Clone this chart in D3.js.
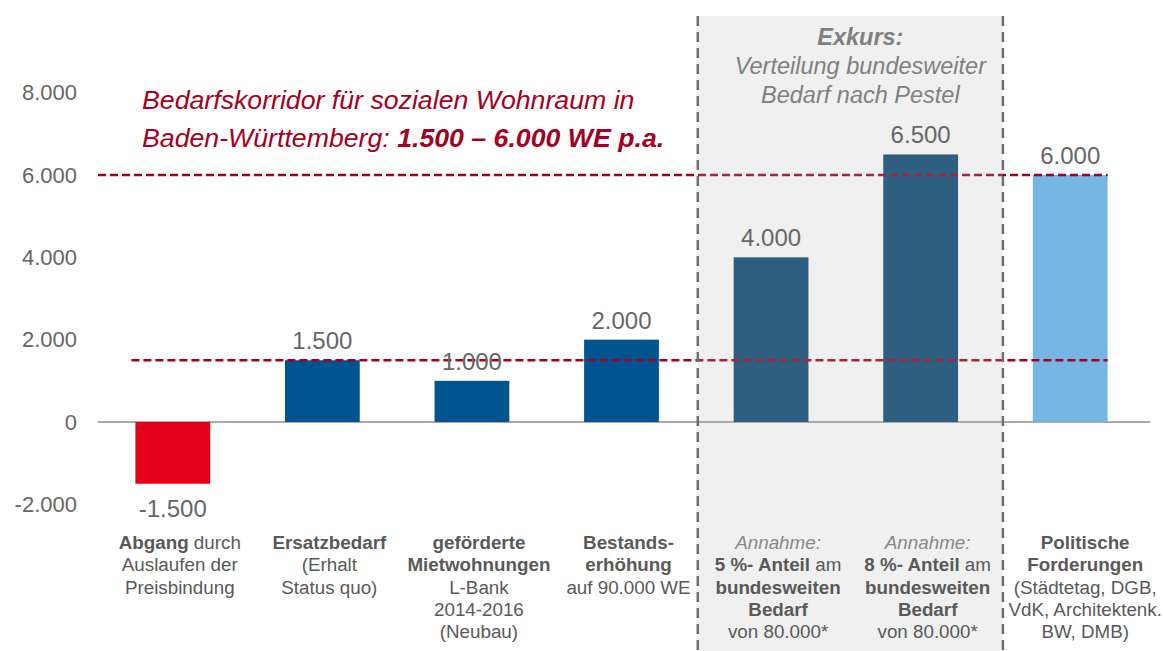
<!DOCTYPE html>
<html>
<head>
<meta charset="utf-8">
<script src="https://cdn.jsdelivr.net/npm/d3@7"></script>
<style>
  body { margin: 0; background: #fff; }
  svg { display: block; font-family: "Liberation Sans", Arial, sans-serif; }
</style>
</head>
<body>
<svg id="chart" width="1163" height="651"></svg>
<script>
// Daten
const categories = ["abgang", "ersatz", "gefoerdert", "bestand", "anteil5", "anteil8", "politik"];
const values = [-1500, 1500, 1000, 2000, 4000, 6500, 6000];
const barColors = ["#e2001a", "#005590", "#005590", "#005590", "#0d4a73", "#0d4a73", "#75b6e3"];
const yTicks = [-2000, 0, 2000, 4000, 6000, 8000];
const corridor = [1500, 6000];
const exkursCats = ["anteil5", "anteil8"];

// Beschriftungen: Zeilen aus Segmenten [Text, Stil]
const catLabels = [
  [[["Abgang", "b"], [" durch", ""]], [["Auslaufen der", ""]], [["Preisbindung", ""]]],
  [[["Ersatzbedarf", "b"]], [["(Erhalt", ""]], [["Status quo)", ""]]],
  [[["geförderte", "b"]], [["Mietwohnungen", "b"]], [["L-Bank", ""]], [["2014-2016", ""]], [["(Neubau)", ""]]],
  [[["Bestands-", "b"]], [["erhöhung", "b"]], [["auf 90.000 WE", ""]]],
  [[["Annahme:", "i"]], [["5 %- Anteil", "b"], [" am", ""]], [["bundesweiten", "b"]], [["Bedarf", "b"]], [["von 80.000*", ""]]],
  [[["Annahme:", "i"]], [["8 %- Anteil", "b"], [" am", ""]], [["bundesweiten", "b"]], [["Bedarf", "b"]], [["von 80.000*", ""]]],
  [[["Politische", "b"]], [["Forderungen", "b"]], [["(Städtetag, DGB,", ""]], [["VdK, Architektenk.", ""]], [["BW, DMB)", ""]]]
];
const noteLines = [
  [["Bedarfskorridor für sozialen Wohnraum in", "i"]],
  [["Baden-Württemberg: ", "i"], ["1.500 – 6.000 WE p.a.", "bi"]]
];
const exkursLines = [["Exkurs:", "bi"], ["Verteilung bundesweiter", "i"], ["Bedarf nach Pestel", "i"]];

const svg = d3.select("#chart");
const fmt = v => d3.format(",")(v).replace(/,/g, ".").replace("\u2212", "-");

const x = d3.scaleBand().domain(categories).range([98, 1145]).paddingInner(0.5).paddingOuter(0.25);
const y = d3.scaleLinear().domain([-2000, 8000]).range([504.3, 92.7]);
const step = x.step();

const boxL = x(exkursCats[0]) - step * 0.24;
const boxR = x(exkursCats[1]) + x.bandwidth() + step * 0.3;

// Achsenlinie
svg.append("line")
  .attr("x1", 98).attr("x2", 1150).attr("y1", y(0)).attr("y2", y(0))
  .attr("stroke", "#8c8c8c").attr("stroke-width", 1.5);

// Balken
svg.append("g").selectAll("rect")
  .data(categories)
  .join("rect")
  .attr("x", d => x(d))
  .attr("width", x.bandwidth())
  .attr("y", (d, i) => y(Math.max(0, values[i])))
  .attr("height", (d, i) => Math.abs(y(values[i]) - y(0)))
  .attr("fill", (d, i) => barColors[i]);

// Korridor-Linien
const lastEnd = x(categories[categories.length - 1]) + x.bandwidth();
svg.append("g").selectAll("line")
  .data(corridor)
  .join("line")
  .attr("x1", (d, i) => i === 1 ? 98 : x(categories[0]) - 4)
  .attr("x2", lastEnd)
  .attr("y1", d => y(d)).attr("y2", d => y(d))
  .attr("stroke", "#a50021").attr("stroke-width", 2.5)
  .attr("stroke-dasharray", "8,4");

// Halbtransparente Überlagerung für Exkurs-Bereich
svg.append("rect")
  .attr("x", boxL).attr("y", 16).attr("width", boxR - boxL).attr("height", 651 - 16)
  .attr("fill", "#b4b4b4").attr("opacity", 0.2);

// Gestrichelte Rahmen links/rechts
svg.append("g").selectAll("line")
  .data([boxL, boxR])
  .join("line")
  .attr("x1", d => d).attr("x2", d => d).attr("y1", 16).attr("y2", 651)
  .attr("stroke", "#6f6f6f").attr("stroke-width", 2.5)
  .attr("stroke-dasharray", "10,6");

// Y-Achse Beschriftung
svg.append("g").selectAll("text")
  .data(yTicks)
  .join("text")
  .attr("x", 77).attr("y", d => y(d)).attr("dy", "0.35em")
  .attr("text-anchor", "end")
  .attr("font-size", 22).attr("fill", "#666")
  .text(d => fmt(d));

// Werte
svg.append("g").selectAll("text")
  .data(categories)
  .join("text")
  .attr("x", d => x(d) + x.bandwidth() / 2)
  .attr("y", (d, i) => values[i] >= 0 ? y(values[i]) - 11 : y(values[i]) + 33)
  .attr("text-anchor", "middle")
  .attr("font-size", 24).attr("fill", "#666")
  .text((d, i) => fmt(values[i]));

function addSegments(text, segs) {
  segs.forEach(([t, s]) => {
    text.append("tspan")
      .attr("font-weight", s.includes("b") ? "bold" : null)
      .attr("font-style", s.includes("i") ? "italic" : null)
      .text(t);
  });
}

// Kategorie-Beschriftungen
categories.forEach((c, i) => {
  const cx = x(c) + x.bandwidth() / 2 + (i === categories.length - 1 ? 15 : 7);
  const g = svg.append("g");
  catLabels[i].forEach((line, j) => {
    const t = g.append("text")
      .attr("x", cx).attr("y", 549 + j * 22.3)
      .attr("text-anchor", "middle")
      .attr("font-size", 18.8)
      .attr("fill", line[0][1] === "i" ? "#888" : "#595959");
    addSegments(t, line);
  });
});

// Anmerkung Korridor
noteLines.forEach((line, j) => {
  const t = svg.append("text")
    .attr("x", 142).attr("y", 109 + j * 38)
    .attr("font-size", 26.7).attr("fill", "#a50021");
  addSegments(t, line);
});

// Exkurs-Titel
const boxC = (boxL + boxR) / 2 + 10;
exkursLines.forEach(([t, s], j) => {
  svg.append("text")
    .attr("x", boxC).attr("y", 45 + j * 29)
    .attr("text-anchor", "middle")
    .attr("font-size", 23.5)
    .attr("font-weight", s.includes("b") ? "bold" : null)
    .attr("font-style", "italic")
    .attr("fill", "#808080")
    .text(t);
});
</script>
</body>
</html>
